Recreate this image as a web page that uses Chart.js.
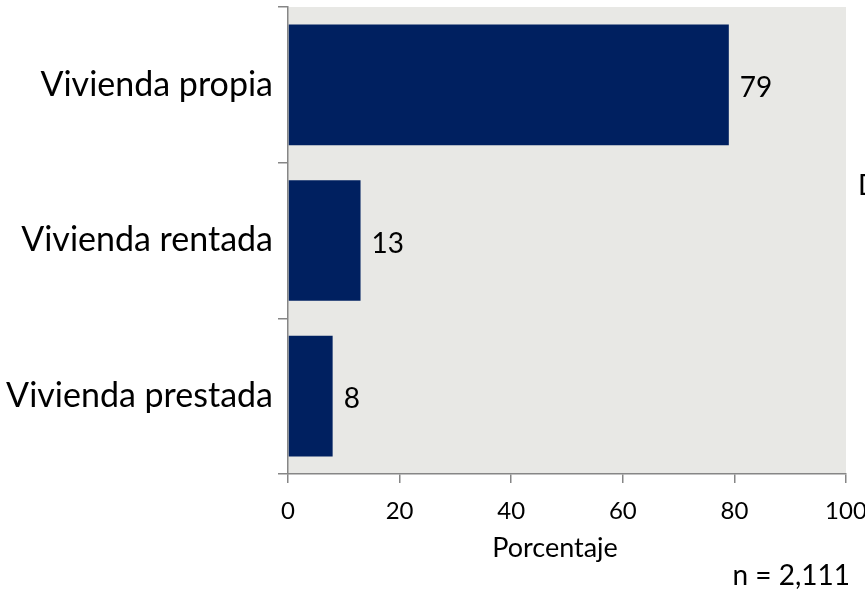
<!DOCTYPE html>
<html>
<head>
<meta charset="utf-8">
<script src="https://cdn.jsdelivr.net/npm/chart.js@4.4.0/dist/chart.umd.min.js"></script>
<style>
  html, body { margin: 0; padding: 0; background: #fff; }
  #wrap { width: 865px; height: 589px; position: relative; }
</style>
</head>
<body>
<div id="wrap"><canvas id="myChart" width="865" height="589"></canvas></div>
<script>
// Chart data
const categories = ["Vivienda propia", "Vivienda rentada", "Vivienda prestada"];
const percentages = [79, 13, 8];
const xTicks = [0, 20, 40, 60, 80, 100];
const xTitle = "Porcentaje";
const sampleNote = "n = 2,111";

const barColor = "#002060";
const axisColor = "#868686";
const fontFamily = "Lato, 'Open Sans', sans-serif";

// Fill the plot area with the light gray background
const plotBackground = {
    id: "plotBackground",
    beforeDraw(chart) {
        const { ctx, chartArea } = chart;
        ctx.save();
        ctx.fillStyle = "#e8e8e5";
        ctx.fillRect(chartArea.left, chartArea.top, chartArea.right - chartArea.left, chartArea.bottom - chartArea.top);
        ctx.restore();
    }
};

// Value labels at the end of each bar, plus the axis title and note texts
const valueLabels = {
    id: "valueLabels",
    afterDatasetsDraw(chart) {
        const { ctx } = chart;
        const meta = chart.getDatasetMeta(0);
        ctx.save();
        ctx.fillStyle = "#000";
        ctx.font = "28px " + fontFamily;
        ctx.textAlign = "left";
        ctx.textBaseline = "middle";
        meta.data.forEach((bar, i) => {
            ctx.fillText(String(percentages[i]), bar.x + 11, bar.y + 3);
        });

        // axis title sits a little left of the plot centre in the original
        ctx.font = "27px " + fontFamily;
        ctx.textAlign = "center";
        ctx.fillText(xTitle, 555, 548);

        ctx.font = "28px " + fontFamily;
        ctx.textAlign = "right";
        ctx.fillText(sampleNote, 850, 576);

        ctx.textAlign = "left";
        ctx.fillText("D", 858, 186);
        ctx.restore();
    }
};

const myChart = new Chart(document.getElementById("myChart").getContext("2d"), {
    type: "bar",
    data: {
        labels: categories,
        datasets: [{
            label: xTitle,
            data: percentages,
            backgroundColor: barColor,
            borderWidth: 0,
            barPercentage: 0.775,
            categoryPercentage: 1.0,
        }],
    },
    options: {
        indexAxis: "y",
        responsive: false,
        animation: false,
        layout: {
            padding: { top: 7, right: 19, left: 0, bottom: 0 }
        },
        plugins: {
            legend: { display: false },
            tooltip: { enabled: false },
        },
        scales: {
            x: {
                min: 0,
                max: 100,
                afterBuildTicks(scale) {
                    scale.ticks = xTicks.map(v => ({ value: v }));
                },
                afterFit(scale) {
                    // keep plot area bottom at the same place as the original
                    scale.height = 115;
                    scale.paddingLeft = 0;
                    scale.paddingRight = 0;
                },
                border: { color: axisColor, width: 1.5 },
                grid: {
                    drawOnChartArea: false,
                    color: axisColor,
                    lineWidth: 1.5,
                    tickLength: 9,
                },
                ticks: {
                    color: "#000",
                    padding: 14,
                    maxRotation: 0,
                    font: { family: fontFamily, size: 24 },
                },
            },
            y: {
                afterFit(scale) {
                    scale.width = 288;
                    scale.paddingTop = 0;
                    scale.paddingBottom = 0;
                },
                border: { color: axisColor, width: 1.5 },
                grid: {
                    drawOnChartArea: false,
                    color: axisColor,
                    lineWidth: 1.5,
                    tickLength: 10,
                },
                ticks: {
                    color: "#000",
                    padding: 5,
                    font: { family: fontFamily, size: 34 },
                },
            },
        },
    },
    plugins: [plotBackground, valueLabels],
});
</script>
</body>
</html>
